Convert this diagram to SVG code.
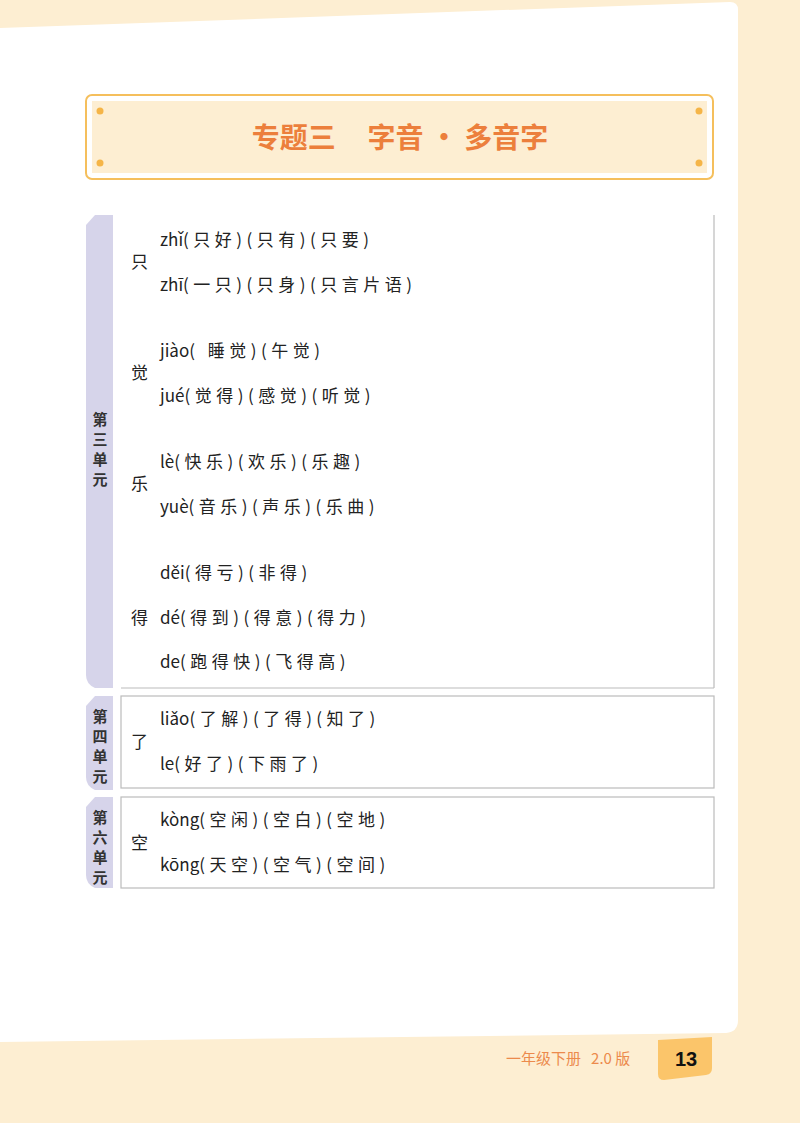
<svg xmlns="http://www.w3.org/2000/svg" width="800" height="1123" viewBox="0 0 800 1123">
<style>
.t{font-family:"Noto Sans CJK SC","Liberation Sans",sans-serif;font-size:17px;fill:#222;letter-spacing:4.5px}
.p{letter-spacing:0}
.c{font-family:"Noto Sans CJK SC",sans-serif;font-size:17px;fill:#222}
.tab{fill:#d6d4ea}
.tl{font-family:"Noto Sans CJK SC",sans-serif;font-size:15px;font-weight:bold;fill:#333;text-anchor:middle}
.box{fill:#fff;stroke:#bbb;stroke-width:1.2}
.dot{fill:#f5b548}
</style>
<rect width="800" height="1123" fill="#fdeed2"/>
<path d="M0 28 L730 2 Q738 2 738 10 L738 1020 Q738 1032 726 1033 L0 1042 Z" fill="#fff"/>
<g id="title">
<rect x="86" y="95" width="627" height="84" rx="6" fill="#fff" stroke="#f5bf5c" stroke-width="2"/>
<rect x="92" y="101" width="615" height="72" fill="#fdeed2"/>
<circle class="dot" cx="100" cy="111" r="3.5"/><circle class="dot" cx="100" cy="163" r="3.5"/>
<circle class="dot" cx="699" cy="111" r="3.5"/><circle class="dot" cx="699" cy="163" r="3.5"/>
<text x="400" y="148" text-anchor="middle" font-family="Noto Sans CJK SC,sans-serif" font-size="28" font-weight="bold" fill="#ec7f3c" xml:space="preserve">专题三     字音 · 多音字</text>
</g>
<g id="connectors"/>
<g id="unit3">
<path class="tab" d="M95 215 L113 215 L113 688 L95 688 Q86 684 86 675 L86 225 Z"/>
<text class="tl" x="100" y="425">第</text><text class="tl" x="100" y="445">三</text><text class="tl" x="100" y="465">单</text><text class="tl" x="100" y="485">元</text>
<line x1="714" y1="215" x2="714" y2="688" stroke="#bbb" stroke-width="1.2"/>
<line x1="121" y1="688" x2="714" y2="688" stroke="#bbb" stroke-width="1.2"/>
<text class="c" x="131" y="268">只</text>
<text class="t" x="160" y="246"><tspan class="p">zhǐ</tspan>(只好)(只有)(只要)</text>
<text class="t" x="160" y="291"><tspan class="p">zhī</tspan>(一只)(只身)(只言片语)</text>
<text class="c" x="131" y="379">觉</text>
<text class="t" x="160" y="357"><tspan class="p">jiào</tspan>( 睡觉)(午觉)</text>
<text class="t" x="160" y="402"><tspan class="p">jué</tspan>(觉得)(感觉)(听觉)</text>
<text class="c" x="131" y="490">乐</text>
<text class="t" x="160" y="468"><tspan class="p">lè</tspan>(快乐)(欢乐)(乐趣)</text>
<text class="t" x="160" y="513"><tspan class="p">yuè</tspan>(音乐)(声乐)(乐曲)</text>
<text class="c" x="131" y="624">得</text>
<text class="t" x="160" y="579"><tspan class="p">děi</tspan>(得亏)(非得)</text>
<text class="t" x="160" y="624"><tspan class="p">dé</tspan>(得到)(得意)(得力)</text>
<text class="t" x="160" y="668"><tspan class="p">de</tspan>(跑得快)(飞得高)</text>
</g>
<g id="unit4">
<path class="tab" d="M95 696 L113 696 L113 790 L95 790 Q86 786 86 777 L86 706 Z"/>
<text class="tl" x="100" y="722">第</text><text class="tl" x="100" y="742">四</text><text class="tl" x="100" y="762">单</text><text class="tl" x="100" y="782">元</text>
<rect class="box" x="121" y="696" width="593" height="92"/>
<text class="c" x="131" y="748">了</text>
<text class="t" x="160" y="725"><tspan class="p">liǎo</tspan>(了解)(了得)(知了)</text>
<text class="t" x="160" y="770"><tspan class="p">le</tspan>(好了)(下雨了)</text>
</g>
<g id="unit6">
<path class="tab" d="M95 797 L113 797 L113 888 L95 888 Q86 884 86 875 L86 807 Z"/>
<text class="tl" x="100" y="823">第</text><text class="tl" x="100" y="843">六</text><text class="tl" x="100" y="863">单</text><text class="tl" x="100" y="883">元</text>
<rect class="box" x="121" y="797" width="593" height="91"/>
<text class="c" x="131" y="849">空</text>
<text class="t" x="160" y="826"><tspan class="p">kòng</tspan>(空闲)(空白)(空地)</text>
<text class="t" x="160" y="871"><tspan class="p">kōng</tspan>(天空)(空气)(空间)</text>
</g>
<g id="footer">
<text x="506" y="1064" font-family="Noto Sans CJK SC,sans-serif" font-size="15" fill="#ec8a4c" xml:space="preserve">一年级下册   2.0 版</text>
<path d="M658 1040 L712 1037 L712 1068 Q712 1074 706 1075 L664 1080 Q658 1080 658 1074 Z" fill="#fbc56a"/>
<text x="686" y="1066" text-anchor="middle" font-family="Liberation Sans,sans-serif" font-size="20" font-weight="bold" fill="#111">13</text>
</g>
</svg>
